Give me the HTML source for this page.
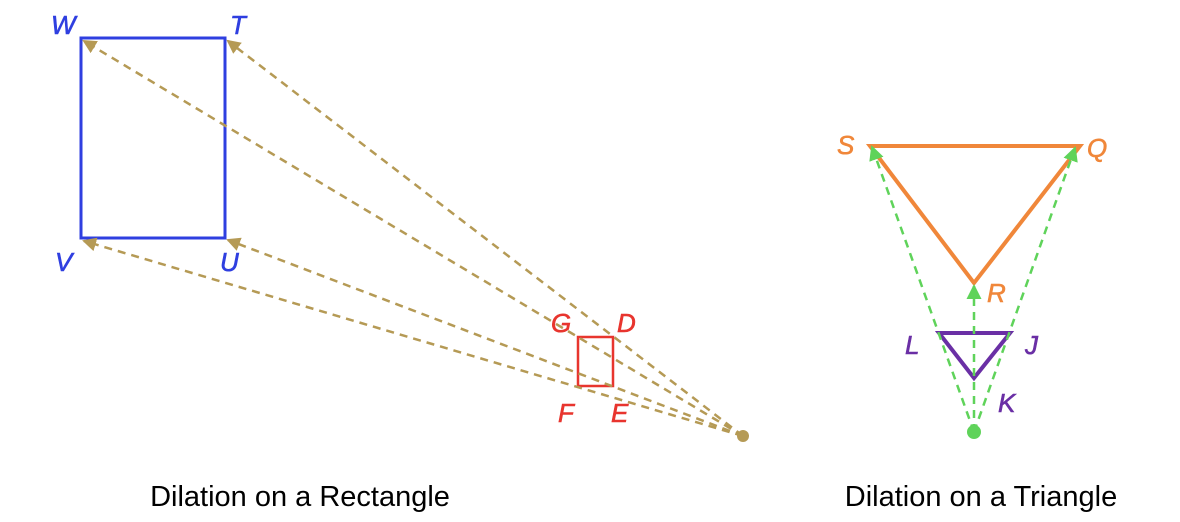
<!DOCTYPE html>
<html><head><meta charset="utf-8"><style>
html,body{margin:0;padding:0;background:#fff;}
svg{display:block;font-family:"Liberation Sans",Arial,sans-serif;}
.l{font-style:italic;font-size:26px;stroke-width:0.6px;}
</style></head><body>
<svg width="1180" height="522" viewBox="0 0 1180 522">
<defs>
<marker id="ab" markerWidth="14" markerHeight="14" refX="12" refY="7" orient="auto" markerUnits="userSpaceOnUse"><path d="M0,0 L14,7 L0,14 z" fill="#b59a55"/></marker>
<marker id="ag" markerWidth="15" markerHeight="15" refX="13" refY="7.5" orient="auto" markerUnits="userSpaceOnUse"><path d="M0,0 L15,7.5 L0,15 z" fill="#5fd35a"/></marker>
</defs>
<g>
<rect x="81" y="38" width="144" height="200" fill="none" stroke="#2f3fe0" stroke-width="3"/>
<rect x="578" y="337" width="35" height="49" fill="none" stroke="#e8352e" stroke-width="2.5"/>
<g stroke="#b59a55" stroke-width="2.5" stroke-dasharray="8,6" fill="none">
<line x1="743" y1="436" x2="84" y2="41" marker-end="url(#ab)"/>
<line x1="743" y1="436" x2="228" y2="41" marker-end="url(#ab)"/>
<line x1="743" y1="436" x2="228" y2="240" marker-end="url(#ab)"/>
<line x1="743" y1="436" x2="84" y2="241" marker-end="url(#ab)"/>
</g>
<circle cx="743" cy="436" r="6" fill="#b59a55"/>
<g class="l" fill="#2f3fe0" stroke="#2f3fe0">
<text x="51" y="34">W</text>
<text x="230" y="34">T</text>
<text x="55" y="271">V</text>
<text x="220" y="271">U</text>
</g>
<g class="l" fill="#e8352e" stroke="#e8352e">
<text x="551" y="332">G</text>
<text x="617" y="332">D</text>
<text x="558" y="422">F</text>
<text x="611" y="422">E</text>
</g>
<text x="300" y="506" font-size="29" text-anchor="middle" fill="#000">Dilation on a Rectangle</text>
</g>
<g>
<polygon points="870,146 1080,146 974,283" fill="none" stroke="#f0873a" stroke-width="4" stroke-linejoin="miter"/>
<polygon points="939,333 1010,333 974,378" fill="none" stroke="#6a2fa5" stroke-width="4"/>
<g stroke="#5fd35a" stroke-width="2.5" stroke-dasharray="8,6" fill="none">
<line x1="974" y1="432" x2="872" y2="147" marker-end="url(#ag)"/>
<line x1="974" y1="432" x2="1075" y2="148" marker-end="url(#ag)"/>
<line x1="974" y1="432" x2="974" y2="286" marker-end="url(#ag)"/>
</g>
<circle cx="974" cy="432" r="7" fill="#5fd35a"/>
<g class="l" fill="#f0873a" stroke="#f0873a">
<text x="837" y="154">S</text>
<text x="1087" y="157">Q</text>
<text x="987" y="302">R</text>
</g>
<g class="l" fill="#6a2fa5" stroke="#6a2fa5">
<text x="905" y="354">L</text>
<text x="1025" y="354">J</text>
<text x="998" y="412">K</text>
</g>
<text x="981" y="506" font-size="29" text-anchor="middle" fill="#000">Dilation on a Triangle</text>
</g>
</svg>
</body></html>
